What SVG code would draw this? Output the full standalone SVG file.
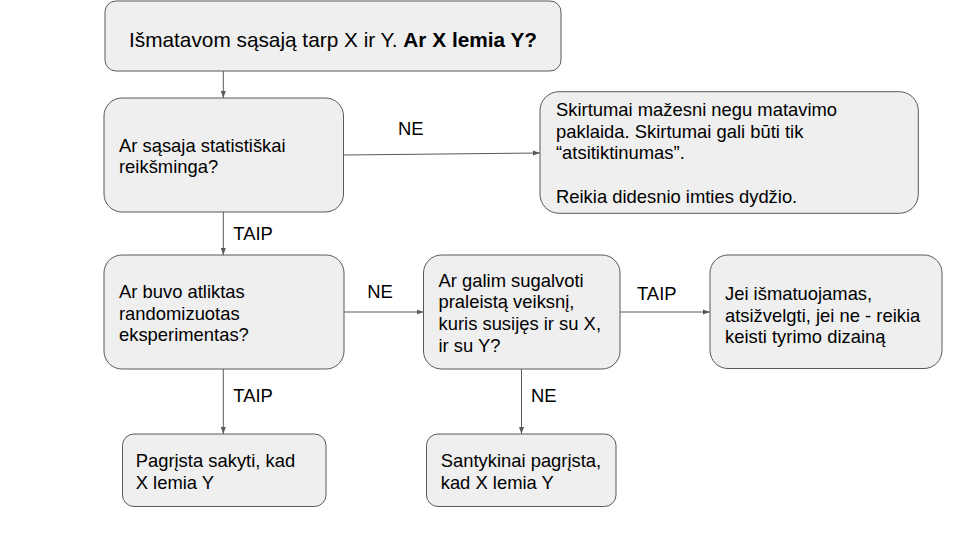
<svg xmlns="http://www.w3.org/2000/svg" width="960" height="540" viewBox="0 0 960 540">
<style>
.box{fill:#efefef;stroke:#595959;stroke-width:1}
.t{font-family:"Liberation Sans",Arial,sans-serif;font-size:18.4px;fill:#000}
.title{font-size:20.8px}
.b{font-weight:bold}
.c{fill:none;stroke:#595959;stroke-width:1}
</style>
<defs>
<marker id="ah" markerUnits="userSpaceOnUse" markerWidth="7" markerHeight="6" refX="7" refY="3" orient="auto">
<path d="M0,0.5 L7,3 L0,5.5 z" fill="#595959"/>
</marker>
</defs>
<rect width="960" height="540" fill="#fff"/>
<g id="connectors">
<line class="c" x1="223.3" y1="71" x2="223.3" y2="98" marker-end="url(#ah)"/>
<line class="c" x1="343.5" y1="155" x2="540" y2="153" marker-end="url(#ah)"/>
<line class="c" x1="223.3" y1="212" x2="223.3" y2="255" marker-end="url(#ah)"/>
<line class="c" x1="344" y1="312" x2="423.5" y2="312" marker-end="url(#ah)"/>
<line class="c" x1="620" y1="312" x2="710" y2="312" marker-end="url(#ah)"/>
<line class="c" x1="223.3" y1="369" x2="223.3" y2="434" marker-end="url(#ah)"/>
<line class="c" x1="521.5" y1="369" x2="521.5" y2="434" marker-end="url(#ah)"/>
<text class="t" x="398" y="135">NE</text>
<text class="t" x="233.3" y="240">TAIP</text>
<text class="t" x="367.3" y="297.7">NE</text>
<text class="t" x="637" y="300">TAIP</text>
<text class="t" x="233.3" y="401.7">TAIP</text>
<text class="t" x="531" y="401.7">NE</text>
</g>
<g id="n1">
<rect class="box" x="105" y="1" width="456" height="70" rx="11"/>
<text class="t title" x="129" y="47">Išmatavom sąsają tarp X ir Y. <tspan class="b">Ar X lemia Y?</tspan></text>
</g>
<g id="n2">
<rect class="box" x="104" y="98" width="239.5" height="114" rx="18"/>
<text class="t" x="119" y="151.7">Ar sąsaja statistiškai</text>
<text class="t" x="119" y="173.4">reikšminga?</text>
</g>
<g id="n3">
<rect class="box" x="540" y="91.7" width="378.3" height="121.6" rx="19"/>
<text class="t" x="556" y="116">Skirtumai mažesni negu matavimo</text>
<text class="t" x="556" y="137.7">paklaida. Skirtumai gali būti tik</text>
<text class="t" x="556" y="159.4">“atsitiktinumas”.</text>
<text class="t" x="556" y="202.6">Reikia didesnio imties dydžio.</text>
</g>
<g id="n4">
<rect class="box" x="104" y="255" width="240" height="114" rx="18"/>
<text class="t" x="119" y="298">Ar buvo atliktas</text>
<text class="t" x="119" y="319.7">randomizuotas</text>
<text class="t" x="119" y="341.4">eksperimentas?</text>
</g>
<g id="n5">
<rect class="box" x="423.5" y="255" width="196.5" height="114" rx="18"/>
<text class="t" x="438.5" y="286.7">Ar galim sugalvoti</text>
<text class="t" x="438.5" y="308.4">praleistą veiksnį,</text>
<text class="t" x="438.5" y="330.1">kuris susijęs ir su X,</text>
<text class="t" x="438.5" y="351.8">ir su Y?</text>
</g>
<g id="n6">
<rect class="box" x="710" y="255" width="232" height="113.5" rx="18"/>
<text class="t" x="725" y="300">Jei išmatuojamas,</text>
<text class="t" x="725" y="321.7">atsižvelgti, jei ne - reikia</text>
<text class="t" x="725" y="343.4">keisti tyrimo dizainą</text>
</g>
<g id="n7">
<rect class="box" x="122.5" y="434" width="203.5" height="72.5" rx="11.5"/>
<text class="t" x="135.7" y="466.8">Pagrįsta sakyti, kad</text>
<text class="t" x="135.7" y="488.7">X lemia Y</text>
</g>
<g id="n8">
<rect class="box" x="426.5" y="434" width="189.5" height="72.5" rx="11.5"/>
<text class="t" x="440.7" y="466.8">Santykinai pagrįsta,</text>
<text class="t" x="440.7" y="488.7">kad X lemia Y</text>
</g>
</svg>
